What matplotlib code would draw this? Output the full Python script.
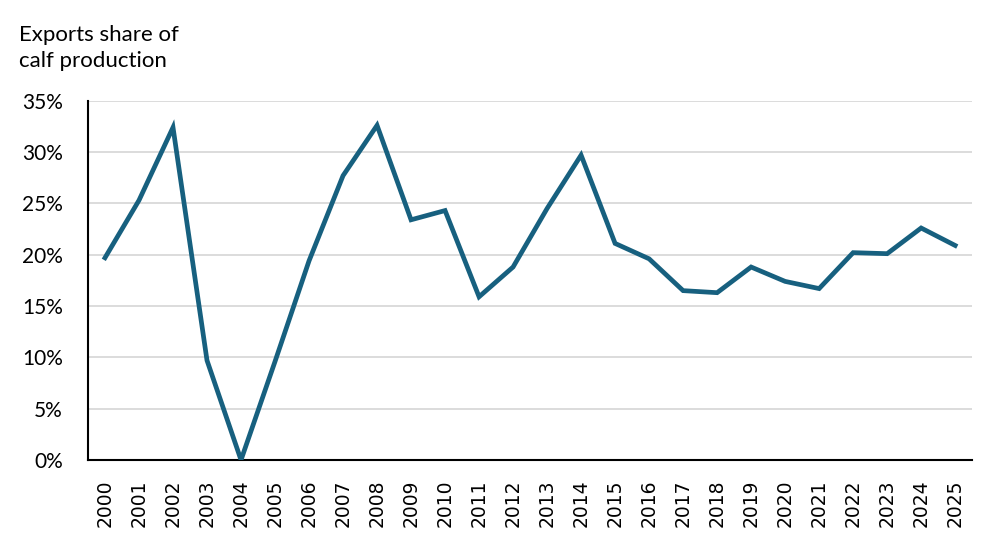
import matplotlib
matplotlib.use("Agg")
import matplotlib.pyplot as plt
from matplotlib.ticker import FuncFormatter

years = [str(y) for y in range(2000, 2026)]
share = [19.7, 25.3, 32.4, 9.7, 0.0, 9.6, 19.4, 27.7, 32.6, 23.4, 24.3, 15.9,
         18.8, 24.5, 29.7, 21.1, 19.6, 16.5, 16.3, 18.8, 17.4, 16.7, 20.2, 20.1,
         22.6, 20.9]
yticks = [0, 5, 10, 15, 20, 25, 30, 35]
title = "Exports share of\ncalf production"

fig = plt.figure(figsize=(9.92, 5.58), dpi=100)
ax = fig.add_axes([0.0887, 0.1756, 0.8913, 0.6439])

x = list(range(len(years)))
ax.plot(x, share, color="#17607f", linewidth=3.4, solid_joinstyle="miter", zorder=3)

ax.set_xlim(-0.5, len(years) - 0.5)
ax.set_ylim(0, 35)
ax.set_yticks(yticks)
ax.yaxis.set_major_formatter(FuncFormatter(lambda v, p: f"{int(v)}%"))
ax.set_xticks(x)
ax.set_xticklabels(years, rotation=90, fontsize=13.5, family="DejaVu Sans")
for lab in ax.get_yticklabels():
    lab.set_family("Lato")
    lab.set_fontsize(15)

ax.grid(axis="y", color="#d9d9d9", linewidth=1.3, zorder=0)
ax.tick_params(axis="x", length=0, pad=14)
ax.tick_params(axis="y", length=0, pad=18)
ax.spines["top"].set_visible(False)
ax.spines["right"].set_visible(False)
ax.spines["left"].set_color("black")
ax.spines["bottom"].set_color("black")
ax.spines["left"].set_linewidth(1.5)
ax.spines["bottom"].set_linewidth(1.5)

fig.text(0.019, 0.955, title, ha="left", va="top", fontsize=16,
         family="Lato", linespacing=1.35)

fig.savefig("out.png", dpi=100)
